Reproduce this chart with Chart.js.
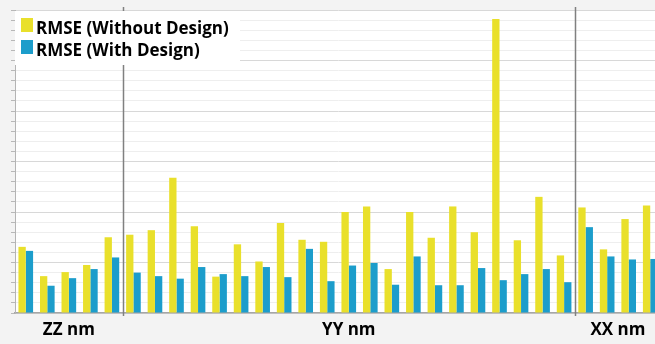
<!DOCTYPE html>
<html>
<head>
<meta charset="utf-8">
<script src="https://cdn.jsdelivr.net/npm/chart.js@4.4.1/dist/chart.umd.min.js"></script>
<style>
  html, body { margin: 0; padding: 0; background: #f3f3f3; overflow: hidden; width: 655px; height: 344px; }
  canvas { display: block; }
</style>
</head>
<body>
<canvas id="rmse" width="661" height="344"></canvas>
<script>
// RMSE per sample, grouped by feature size
const groupNames = ['ZZ nm', 'YY nm', 'XX nm'];

const zzLabels = ['ZZ-1', 'ZZ-2', 'ZZ-3', 'ZZ-4', 'ZZ-5'];
const zzWithout = [1.31, 0.73, 0.81, 0.95, 1.50];
const zzWith    = [1.23, 0.54, 0.69, 0.87, 1.10];

const yyLabels = ['YY-1', 'YY-2', 'YY-3', 'YY-4', 'YY-5', 'YY-6', 'YY-7', 'YY-8', 'YY-9', 'YY-10', 'YY-11',
                  'YY-12', 'YY-13', 'YY-14', 'YY-15', 'YY-16', 'YY-17', 'YY-18', 'YY-19', 'YY-20', 'YY-21'];
const yyWithout = [1.55, 1.64, 2.68, 1.72, 0.72, 1.36, 1.02, 1.78, 1.45, 1.41, 2.00,
                   2.11, 0.87, 2.00, 1.49, 2.11, 1.60, 5.82, 1.44, 2.30, 1.14];
const yyWith    = [0.80, 0.73, 0.68, 0.91, 0.77, 0.73, 0.91, 0.71, 1.27, 0.63, 0.94,
                   0.99, 0.56, 1.12, 0.55, 0.55, 0.89, 0.65, 0.77, 0.87, 0.61];

const xxLabels = ['XX-1', 'XX-2', 'XX-3', 'XX-4'];
const xxWithout = [2.09, 1.26, 1.86, 2.13];
const xxWith    = [1.70, 1.12, 1.06, 1.07];

const seriesNames = ['RMSE (Without Design)', 'RMSE (With Design)'];

const groupSizes = [zzLabels.length, yyLabels.length, xxLabels.length];
const categories = [...zzLabels, ...yyLabels, ...xxLabels];
const withoutDesign = [...zzWithout, ...yyWithout, ...xxWithout];
const withDesign = [...zzWith, ...yyWith, ...xxWith];

const YELLOW = '#e9e02b';
const BLUE = '#1c9dcb';
const FONT = '"Open Sans", "Noto Sans", sans-serif';

const decorations = {
  id: 'decorations',
  beforeDraw(chart) {
    const { ctx, chartArea: a } = chart;
    ctx.save();
    ctx.fillStyle = '#ffffff';
    ctx.fillRect(a.left, a.top, a.right - a.left, a.bottom - a.top);
    ctx.restore();
  },
  afterDatasetsDraw(chart) {
    const { ctx, chartArea: a, scales: { x } } = chart;
    ctx.save();

    // group separators and group names
    let start = 0;
    groupSizes.forEach((n, g) => {
      if (g > 0) {
        const sx = Math.round((x.getPixelForValue(start - 1) + x.getPixelForValue(start)) / 2) + 0.5;
        ctx.strokeStyle = '#808080';
        ctx.lineWidth = 1.5;
        ctx.beginPath();
        ctx.moveTo(sx, a.top - 3);
        ctx.lineTo(sx, a.bottom + 3);
        ctx.stroke();
      }
      const cx = (x.getPixelForValue(start) + x.getPixelForValue(start + n - 1)) / 2;
      ctx.fillStyle = '#000000';
      ctx.font = '700 17px ' + FONT;
      ctx.textAlign = 'center';
      ctx.textBaseline = 'alphabetic';
      ctx.fillText(groupNames[g], cx, a.bottom + 22);
      start += n;
    });

    // legend box in the upper left of the plot
    const lx = a.left, ly = a.top + 1;
    ctx.fillStyle = '#ffffff';
    ctx.fillRect(lx, ly, 225, 54);
    const colors = chart.data.datasets.map(d => d.backgroundColor);
    chart.data.datasets.forEach((d, i) => {
      const y = ly + 7 + i * 22;
      ctx.fillStyle = colors[i];
      ctx.fillRect(lx + 6, y, 12, 14);
      ctx.fillStyle = '#000000';
      ctx.font = '700 17px ' + FONT;
      ctx.textAlign = 'left';
      ctx.textBaseline = 'alphabetic';
      ctx.fillText(d.label, lx + 21, y + 16);
    });
    ctx.restore();
  }
};

new Chart(document.getElementById('rmse'), {
  type: 'bar',
  data: {
    labels: categories,
    datasets: [
      { label: seriesNames[0], data: withoutDesign, backgroundColor: YELLOW },
      { label: seriesNames[1], data: withDesign, backgroundColor: BLUE }
    ]
  },
  options: {
    responsive: false,
    animation: false,
    devicePixelRatio: 1,
    layout: { padding: { left: 11, top: 10, right: 0, bottom: 31 } },
    datasets: { bar: { categoryPercentage: 0.68, barPercentage: 1.0, borderWidth: 0 } },
    plugins: { legend: { display: false }, tooltip: { enabled: false } },
    scales: {
      x: {
        grid: { display: false, drawTicks: false },
        border: { display: true, color: '#a6a6a6', width: 1.5 },
        ticks: { display: false }
      },
      y: {
        min: 0,
        max: 6,
        ticks: { display: false, stepSize: 0.2 },
        grid: {
          drawTicks: true,
          tickLength: 4,
          color: c => Math.abs(c.tick.value - Math.round(c.tick.value)) < 1e-6 ? '#d8d8d8' : '#eeeeee',
          tickColor: '#b8b8b8'
        },
        border: { display: true, color: '#b4b4b4', width: 1 }
      }
    }
  },
  plugins: [decorations]
});
</script>
</body>
</html>
